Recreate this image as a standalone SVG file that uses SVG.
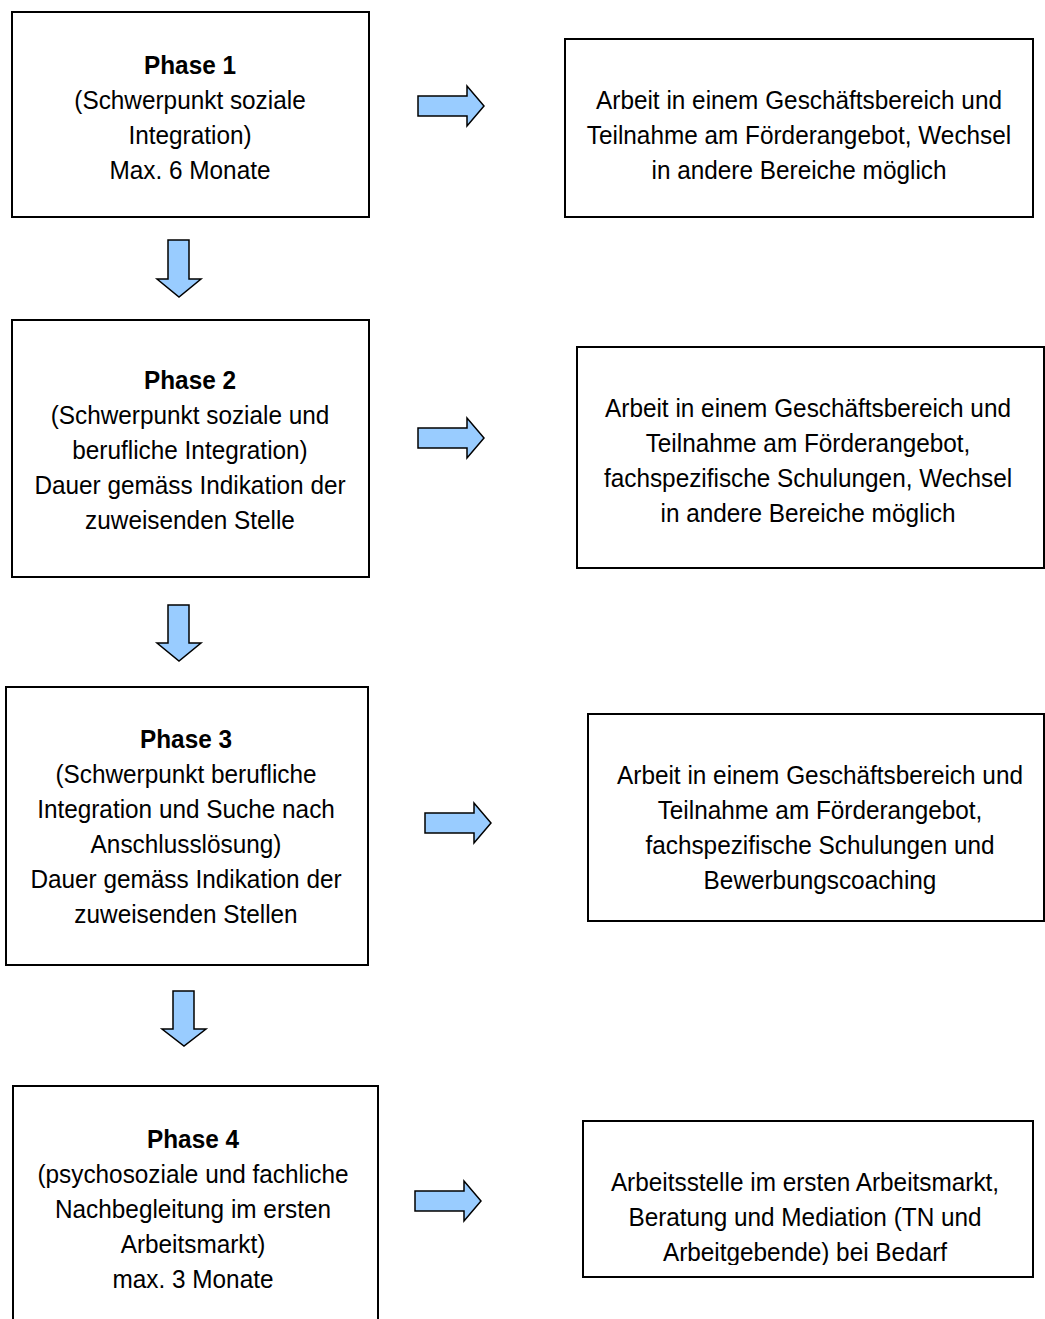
<svg xmlns="http://www.w3.org/2000/svg" width="1045" height="1319" viewBox="0 0 1045 1319">
<style>
.box{fill:#fff;stroke:#000;stroke-width:2}
.arr{fill:#99ccff;stroke:#000;stroke-width:1.5;stroke-linejoin:miter}
text{font-family:"Liberation Sans",Arial,sans-serif;font-size:25.5px;fill:#000;text-anchor:middle}
.b{font-weight:bold}
</style>
<defs>
<clipPath id="c4"><rect x="583" y="1121" width="450" height="144"/></clipPath>
</defs>
<rect width="1045" height="1319" fill="#fff"/>
<g id="phase1">
<rect class="box" x="12" y="12" width="357" height="205"/>
<text transform="translate(190 0) scale(0.955 1)" x="0" y="74"><tspan class="b">Phase 1</tspan><tspan x="0" dy="35">(Schwerpunkt soziale</tspan><tspan x="0" dy="35">Integration)</tspan><tspan x="0" dy="35">Max. 6 Monate</tspan></text>
</g>
<g id="detail1">
<rect class="box" x="565" y="39" width="468" height="178"/>
<text transform="translate(799 0) scale(0.955 1)" x="0" y="109">Arbeit in einem Geschäftsbereich und<tspan x="0" dy="35">Teilnahme am Förderangebot, Wechsel</tspan><tspan x="0" dy="35">in andere Bereiche möglich</tspan></text>
</g>
<g id="phase2">
<rect class="box" x="12" y="320" width="357" height="257"/>
<text transform="translate(190 0) scale(0.955 1)" x="0" y="389"><tspan class="b">Phase 2</tspan><tspan x="0" dy="35">(Schwerpunkt soziale und</tspan><tspan x="0" dy="35">berufliche Integration)</tspan><tspan x="0" dy="35">Dauer gemäss Indikation der</tspan><tspan x="0" dy="35">zuweisenden Stelle</tspan></text>
</g>
<g id="detail2">
<rect class="box" x="577" y="347" width="467" height="221"/>
<text transform="translate(808 0) scale(0.955 1)" x="0" y="417">Arbeit in einem Geschäftsbereich und<tspan x="0" dy="35">Teilnahme am Förderangebot,</tspan><tspan x="0" dy="35">fachspezifische Schulungen, Wechsel</tspan><tspan x="0" dy="35">in andere Bereiche möglich</tspan></text>
</g>
<g id="phase3">
<rect class="box" x="6" y="687" width="362" height="278"/>
<text transform="translate(186 0) scale(0.955 1)" x="0" y="748"><tspan class="b">Phase 3</tspan><tspan x="0" dy="35">(Schwerpunkt berufliche</tspan><tspan x="0" dy="35">Integration und Suche nach</tspan><tspan x="0" dy="35">Anschlusslösung)</tspan><tspan x="0" dy="35">Dauer gemäss Indikation der</tspan><tspan x="0" dy="35">zuweisenden Stellen</tspan></text>
</g>
<g id="detail3">
<rect class="box" x="588" y="714" width="456" height="207"/>
<text transform="translate(820 0) scale(0.955 1)" x="0" y="784">Arbeit in einem Geschäftsbereich und<tspan x="0" dy="35">Teilnahme am Förderangebot,</tspan><tspan x="0" dy="35">fachspezifische Schulungen und</tspan><tspan x="0" dy="35">Bewerbungscoaching</tspan></text>
</g>
<g id="phase4">
<rect class="box" x="13" y="1086" width="365" height="250"/>
<text transform="translate(193 0) scale(0.955 1)" x="0" y="1148"><tspan class="b">Phase 4</tspan><tspan x="0" dy="35">(psychosoziale und fachliche</tspan><tspan x="0" dy="35">Nachbegleitung im ersten</tspan><tspan x="0" dy="35">Arbeitsmarkt)</tspan><tspan x="0" dy="35">max. 3 Monate</tspan></text>
</g>
<g id="detail4">
<rect class="box" x="583" y="1121" width="450" height="156"/>
<g clip-path="url(#c4)">
<text transform="translate(805 0) scale(0.955 1)" x="0" y="1191">Arbeitsstelle im ersten Arbeitsmarkt,<tspan x="0" dy="35">Beratung und Mediation (TN und</tspan><tspan x="0" dy="35">Arbeitgebende) bei Bedarf</tspan></text>
</g>
</g>
<g id="connectors">
<path class="arr" d="M418,96 H467 V86 L484,106 L467,126 V116 H418 Z"/>
<path class="arr" d="M418,428 H467 V418 L484,438 L467,458 V448 H418 Z"/>
<path class="arr" d="M425,813 H474 V803 L491,823 L474,843 V833 H425 Z"/>
<path class="arr" d="M415,1191 H464 V1181 L481,1201 L464,1221 V1211 H415 Z"/>
<path class="arr" d="M168,240 H189 V279 H201 L179,297 L157,279 H168 Z"/>
<path class="arr" d="M168,605 H189 V643 H201 L179,661 L157,643 H168 Z"/>
<path class="arr" d="M173,991 H194 V1029 H206 L184,1046 L162,1029 H173 Z"/>
</g>
</svg>
